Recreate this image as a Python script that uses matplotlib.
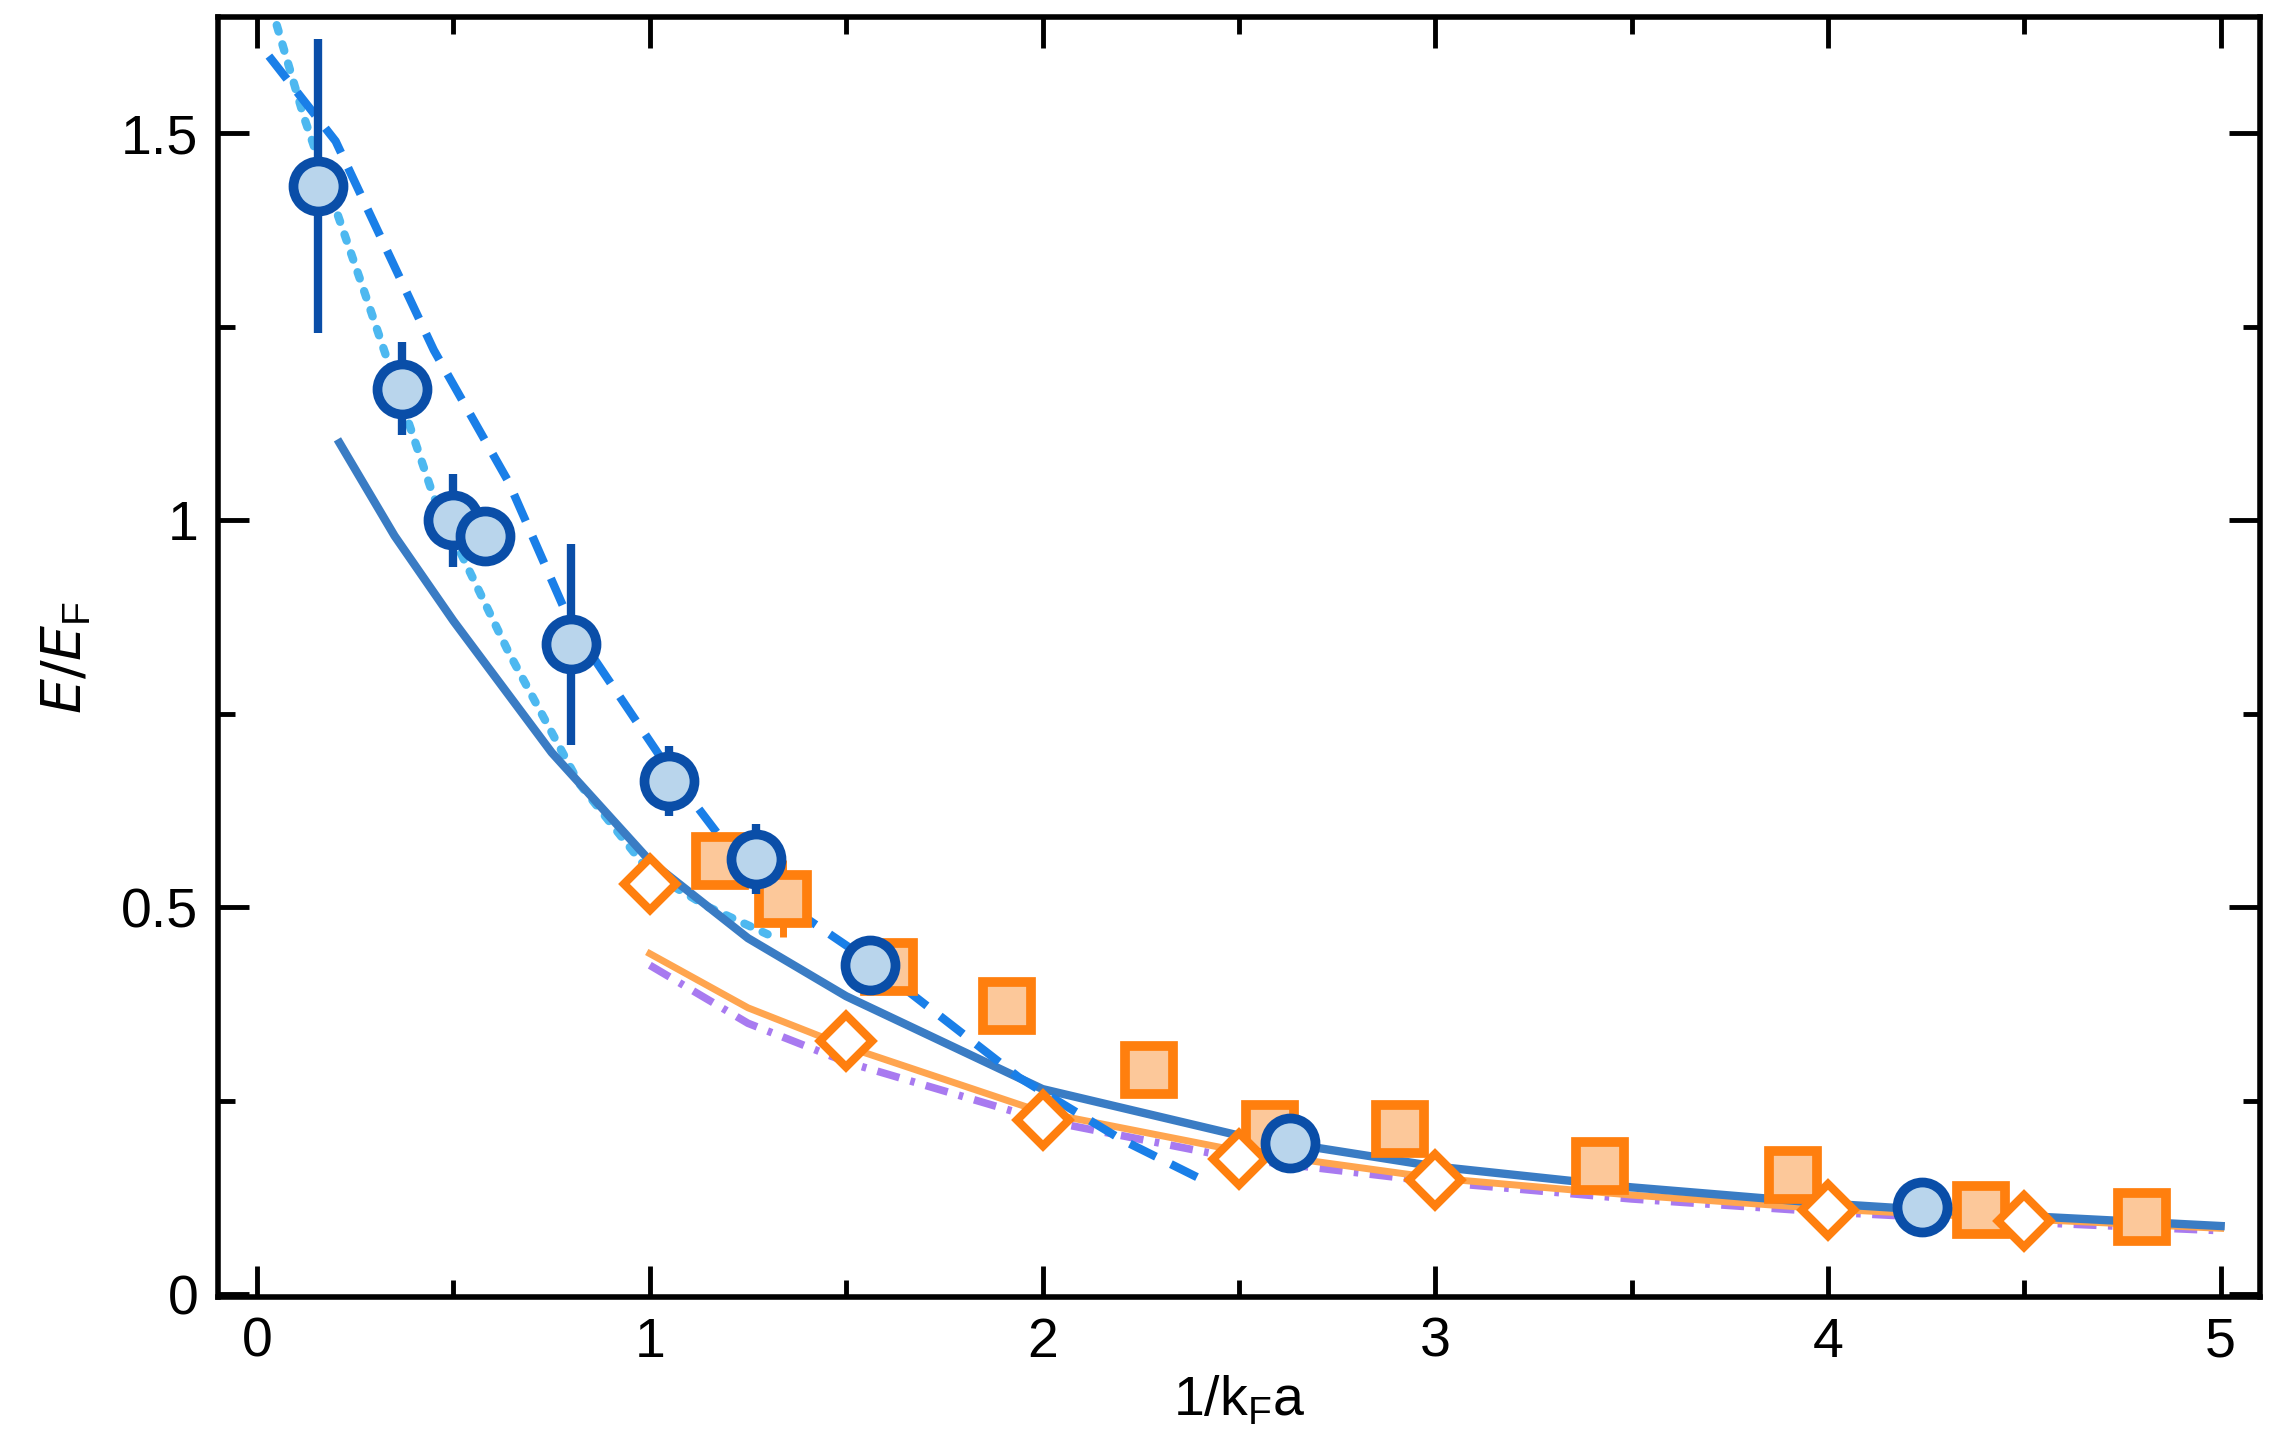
import numpy as np
import matplotlib
matplotlib.use("Agg")
import matplotlib.pyplot as plt
from matplotlib.ticker import MultipleLocator

plt.rcParams.update({"font.family": ["Liberation Sans", "DejaVu Sans"], "font.size": 40})

# data points
circ_x = [0.156, 0.37, 0.50, 0.58, 0.80, 1.05, 1.27, 1.56, 2.63, 4.24]
circ_y = [1.432, 1.17, 1.00, 0.98, 0.84, 0.663, 0.562, 0.425, 0.195, 0.113]
circ_e = [0.19, 0.06, 0.06, 0.0, 0.13, 0.045, 0.045, 0.03, 0.0, 0.0]
sq_x = [1.18, 1.34, 1.61, 1.91, 2.27, 2.58, 2.91, 3.42, 3.91, 4.39, 4.80]
sq_y = [0.56, 0.511, 0.423, 0.372, 0.29, 0.214, 0.214, 0.165, 0.154, 0.109, 0.10]
sq_e = [0.03, 0.05, 0.0, 0.035, 0.0, 0.0, 0.0, 0.0, 0.0, 0.0, 0.0]
dia_x = [1.0, 1.5, 2.0, 2.5, 3.0, 4.0, 4.5]
dia_y = [0.53, 0.327, 0.225, 0.175, 0.147, 0.109, 0.094]

# theory curves
solid_x = [0.21, 0.35, 0.5, 0.75, 1.0, 1.25, 1.5, 2.0, 2.5, 3.0, 3.5, 4.0, 4.5, 5.0]
solid_y = [1.10, 0.98, 0.87, 0.70, 0.56, 0.46, 0.385, 0.265, 0.205, 0.165, 0.138, 0.117, 0.101, 0.088]
dash_x = [0.03, 0.2, 0.45, 0.64, 0.8, 1.05, 1.27, 1.56, 1.94, 2.2, 2.41]
dash_y = [1.60, 1.49, 1.22, 1.05, 0.865, 0.677, 0.53, 0.43, 0.28, 0.20, 0.147]
dot_x = [0.05, 0.12, 0.27, 0.45, 0.64, 0.82, 1.0, 1.15, 1.3]
dot_y = [1.64, 1.52, 1.30, 1.03, 0.83, 0.66, 0.545, 0.50, 0.465]
or_x = [1.0, 1.25, 1.5, 2.0, 2.5, 3.0, 3.5, 4.0, 4.5, 5.0]
or_y = [0.44, 0.37, 0.32, 0.235, 0.185, 0.15, 0.128, 0.11, 0.097, 0.085]
pu_x = [1.0, 1.25, 1.5, 2.0, 2.5, 3.0, 3.5, 4.0, 4.5, 5.0]
pu_y = [0.425, 0.35, 0.30, 0.225, 0.175, 0.145, 0.123, 0.106, 0.093, 0.082]

fig = plt.figure(figsize=(22.69, 14.51), dpi=100)
ax = fig.add_axes([0.096, 0.106, 0.9, 0.882])

ax.plot(dot_x, dot_y, ls=(0, (0.8, 1.6)), color="#4db8f0", lw=6, dash_capstyle="round")
ax.plot(pu_x, pu_y, ls=(0, (3, 1.5, 0.6, 1.5)), color="#a87af0", lw=5.5)
ax.plot(or_x, or_y, color="#ffa54f", lw=5)
ax.plot(solid_x, solid_y, color="#3a7cc4", lw=6)
ax.plot(dash_x, dash_y, ls=(0, (3.5, 2)), color="#1a7fe8", lw=6)

ax.errorbar(sq_x, sq_y, yerr=sq_e, fmt="s", ms=34, mfc="#fcc89a", mec="#ff7f0e",
            mew=7, ecolor="#ff7f0e", elinewidth=5, capsize=0, zorder=4)
ax.plot(dia_x, dia_y, "D", ms=26, mfc="white", mec="#ff7f0e", mew=6, zorder=5)
ax.errorbar(circ_x, circ_y, yerr=circ_e, fmt="o", ms=36, mfc="#b9d5ec", mec="#0a4ea8",
            mew=7, ecolor="#0a4ea8", elinewidth=6, capsize=0, zorder=6)

ax.set_xlim(-0.1, 5.1)
ax.set_ylim(-0.004, 1.65)
ax.xaxis.set_major_locator(MultipleLocator(1))
ax.xaxis.set_minor_locator(MultipleLocator(0.5))
ax.yaxis.set_major_locator(MultipleLocator(0.5))
ax.yaxis.set_minor_locator(MultipleLocator(0.25))
ax.set_yticks([0, 0.5, 1, 1.5])
ax.set_yticklabels(["0", "0.5", "1", "1.5"])
ax.tick_params(which="both", direction="in", top=True, right=True, width=3.5)
ax.tick_params(which="major", length=22, pad=14)
ax.tick_params(which="minor", length=12)
for sp in ax.spines.values():
    sp.set_linewidth(4)
ax.set_xlabel(r"1/k$_\mathregular{F}$a", labelpad=4)
ax.set_ylabel(r"$E/E_\mathregular{F}$", labelpad=20)
fig.savefig("out.png", dpi=100)
